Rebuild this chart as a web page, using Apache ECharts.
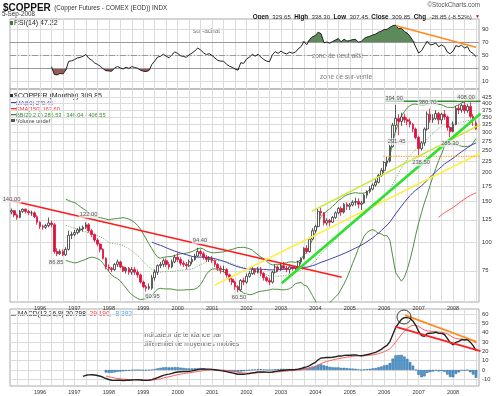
<!DOCTYPE html>
<html><head><meta charset="utf-8">
<script src="https://cdn.jsdelivr.net/npm/echarts@6/dist/echarts.min.js"></script>
<style>html,body{margin:0;padding:0;background:#fff}#c{width:499px;height:396px}</style>
</head><body><div id="c"></div>
<script>
// ---- monthly OHLC, [open, close, low, high], first bar = March 1995 ----
const ohlc1995 = [[135,137,132,140],[137,131,128,138],[131,128,125,133],[128,136,127,138],[136,139,134,140],[139,136,133,140],[136,134,131,138],[134,134,130,137],[134,129,127,136],[129,122,119,131]];
const ohlc1996 = [[122,117,114,123],[117,116,113,119],[116,118,114,120],[118,121,116,128],[121,119,116,124],[119,91,89,121],[91,89,86.85,94],[89,91,88,93],[91,88,87,93],[88,93,87,95],[93,107,92,112],[107,108,103,111]];
const ohlc1997 = [[108,110,106,113],[110,113,108,115],[113,114,110,117],[114,116,111,118],[116,119,114,122],[119,112,110,121],[112,108,105,114],[108,102,100,109],[102,98,96,104],[98,93,90,99],[93,85,84,94],[85,78,76,86]];
const ohlc1998 = [[78,77,75,80],[77,76,74,78],[76,80,75,81],[80,82,78,84],[82,78,77,83],[78,75,74,79],[75,77,73,78],[77,74,72,78],[74,76,72,78],[76,74,72,78],[74,72,70,76],[72,67,66,73]];
const ohlc1999 = [[67,64,63,68],[64,63,60.95,65],[63,64,62,66],[63,70,62,72],[70,74,68,76],[74,79,72,80],[79,80,77,82],[80,83,78,85],[83,80,78,85],[80,78,76,82],[78,82,77,84],[82,86,81,88]];
const ohlc2000 = [[86,84,82,90],[84,81,79,86],[81,80,78,83],[80,79,76,82],[79,82,78,84],[82,84,80,86],[84,87,83,89],[87,91,86,94.4],[91,89,87,93],[89,86,84,91],[86,84,82,88],[84,85,82,87]];
const ohlc2001 = [[85,83,81,87],[83,80,78,84],[80,77,75,81],[77,76,73,79],[76,76,74,79],[76,72,70,77],[72,69,67,73],[69,67,65,70],[67,64,62,68],[64,62,60.5,65],[62,68,61,69],[68,67,65,70]];
const ohlc2002 = [[67,71,66,73],[71,73,70,75],[73,76,72,78],[76,74,72,77],[74,76,73,78],[76,73,71,78],[73,70,68,74],[70,68,67,71],[68,67,65,70],[67,74,66,75],[74,78,73,80],[78,76,74,79]];
const ohlc2003 = [[76,79,75,81],[79,77,76,82],[77,76,74,79],[76,78,73,80],[78,77,75,79],[77,78,75,79],[78,82,77,83],[82,85,80,86],[85,94,84,95],[94,91,89,97],[91,103,90,104],[103,112,102,115]];
const ohlc2004 = [[112,117,110,119],[117,136,116,140],[136,134,130,141],[134,121,118,135],[121,124,118,127],[124,122,117,126],[122,128,121,130],[128,134,126,136],[134,140,132,142],[140,135,130,143],[135,146,133,148],[146,143,138,149]];
const ohlc2005 = [[143,145,138,148],[145,149,143,152],[149,150,144,156],[150,146,140,155],[146,148,138,151],[148,160,147,162],[160,166,155,168],[166,170,163,175],[170,177,168,180],[177,182,174,188],[182,195,180,198],[195,205,192,210]];
const ohlc2006 = [[205,222,200,225],[222,225,213,235],[225,260,222,265],[260,322,258,330],[322,345,300,394.9],[345,335,291.45,360],[335,350,320,365],[350,340,330,362],[340,335,322,348],[335,325,315,345],[325,310,300,330],[310,285,280,315]];
const ohlc2007 = [[285,255,238.5,290],[255,270,250,275],[270,310,262,315],[310,360,305,370],[360,340,330,380.7],[340,345,330,360],[345,362,340,375],[362,340,325,368],[340,360,325,365],[360,350,340,375],[350,315,305,355],[315,303,285.3,320]];
const ohlc2008 = [[303,325,300,335],[325,382,322,390],[382,375,360,396],[375,393,365,400],[393,373,362,408],[373,389,365,398],[389,352,345,405],[352,338.7,320,360],[329.65,309.85,307.45,338.3]];

// ---- axis ticks ----
const yearLabels = ['1996','1997','1998','1999','2000','2001','2002','2003','2004','2005','2006','2007','2008'];
const priceTicks = [75,100,125,150,175,200,225,250,275,300,325,350,375,400,425];
const rsiTicks = [10,30,50,70,90];
const macdTicks = [-10,0,10,20,30,40,50,60];

// ---- annotations (x in decimal years) ----
const peakLabels = ['140.00','122.00','86.85','60.95','94.40','60.50','394.90','380.70','408.00','291.45','238.50','285.30'];
const peakTimes  = [1995.172,1997.41,1996.47,1999.27,2000.65,2001.78,2006.285,2007.258,2008.377,2006.358,2007.07,2007.91];
const peakPrices = [153,131.6,81.8,57.8,101.7,57.5,421,405,426,273,221.4,268];

const redTrendTimes = [1995.13,2004.765];    const redTrendPrices = [152,70.3];
const greenTrendTimes = [2003.022,2008.8];   const greenTrendPrices = [66.2,362];
const limeTrendTimes = [2003.894,2008.8];    const limeTrendPrices = [136,325];
const yellowTrendTimes = [2001.084,2008.8];  const yellowTrendPrices = [65.1,244];
const resistTimes = [2006.04,2008.8];        const resistPrices = [410,410];
const supportTimes = [2005.97,2008.8];       const supportPrices = [236,236];
const rsiTrendTimes = [2006.343,2008.667];   const rsiTrendValues = [95,61.8];
const macdOrangeTimes = [2006.605,2008.687]; const macdOrangeValues = [59.1,30.4];
const macdRedTimes = [2006.314,2008.8];      const macdRedValues = [46.6,20.4];
const macdCircleTimes = [2006.575];          const macdCircleValues = [57];

// ---- build series data ----
const years = [ohlc1995,ohlc1996,ohlc1997,ohlc1998,ohlc1999,ohlc2000,ohlc2001,ohlc2002,ohlc2003,ohlc2004,ohlc2005,ohlc2006,ohlc2007,ohlc2008];
const times = [], candles = [], closes = [];
{
  let y = 1995, m = 3;
  for (const arr of years) for (const r of arr) {
    const t = y + (m-1)/12;
    times.push(t); candles.push([t, r[0], r[1], r[2], r[3]]); closes.push(r[1]);
    m++; if (m > 12) { m = 1; y++; }
  }
}
function sma(a,n){const o=[];for(let i=0;i<a.length;i++){if(i<n-1){o.push(null);continue;}let s=0;for(let j=i-n+1;j<=i;j++)s+=a[j];o.push(s/n);}return o;}
function ema(a,n){const o=[],k=2/(n+1);let p=null,buf=[];for(let i=0;i<a.length;i++){const v=a[i];if(v==null){o.push(null);continue;}if(p==null){buf.push(v);if(buf.length===n){p=buf.reduce((x,y)=>x+y,0)/n;o.push(p);}else o.push(null);}else{p=v*k+p*(1-k);o.push(p);}}return o;}
function rsiCalc(a,n){const o=[null];let ag=0,al=0;for(let i=1;i<a.length;i++){const d=a[i]-a[i-1],g=Math.max(d,0),l=Math.max(-d,0);if(i<=n){ag+=g;al+=l;if(i===n){ag/=n;al/=n;o.push(100-100/(1+ag/al));}else o.push(null);}else{ag=(ag*(n-1)+g)/n;al=(al*(n-1)+l)/n;o.push(al===0?100:100-100/(1+ag/al));}}return o;}
const ma50 = sma(closes,50), ema150 = ema(closes,150), bbMid = sma(closes,20);
const bbUp = [], bbLo = [];
for (let i=0;i<closes.length;i++){ if(bbMid[i]==null){bbUp.push(null);bbLo.push(null);continue;} let s=0; for(let j=i-19;j<=i;j++) s+=(closes[j]-bbMid[i])**2; const sd=Math.sqrt(s/20); bbUp.push(bbMid[i]+2*sd); bbLo.push(bbMid[i]-2*sd); }
const rsi = rsiCalc(closes,14);
const e12 = ema(closes,12), e26 = ema(closes,26);
const macd = closes.map((c,i)=> (e12[i]==null||e26[i]==null)?null:e12[i]-e26[i]);
const signal = ema(macd,9);
const hist = macd.map((v,i)=> (v==null||signal[i]==null)?null:v-signal[i]);
const pair = arr => times.map((t,i)=>[t, arr[i]]);
const seg = (ts,vs) => ts.map((t,i)=>[t, vs[i]]);

const yearTicks = yearLabels.map(y => +y);
const vGrid = []; for (let y=1995; y<=2008; y++) for (const k of [0,4,8]) vGrid.push(y + k/12);
const xMin = 1995.128, xMax = 2008.754;
const FONT = 'Liberation Sans, Arial, sans-serif';
const gridLine = {show:true, lineStyle:{color:'#dcdcdc', width:1}};

function xAxisFor(gi, showLabels){
  return {type:'value', gridIndex:gi, min:xMin, max:xMax, scale:true,
    axisLine:{show:false}, axisTick:{show:false, customValues:vGrid},
    splitLine:gridLine,
    axisLabel:{show:showLabels, customValues:yearTicks, formatter:v=>String(Math.round(v)), fontSize:5.5, color:'#333', margin:3, fontFamily:FONT}};
}
function yAxisFor(gi, type, min, max, ticks){
  return {type:type, gridIndex:gi, position:'right', min:min, max:max, logBase:10,
    axisLine:{show:false}, axisTick:{show:false, customValues:ticks},
    splitLine:gridLine,
    axisLabel:{customValues:ticks, fontSize:5.8, color:'#333', margin:3, fontFamily:FONT}};
}

const rsiHi = rsi.map(v=> v==null?null:Math.max(v,70));
const rsiLo = rsi.map(v=> v==null?null:Math.min(v,30));

const lineS = (xi, yi, data, color, width, extra) => Object.assign({type:'line', xAxisIndex:xi, yAxisIndex:yi, data:data, symbol:'none', silent:true, lineStyle:{color:color, width:width}, z:4, animation:false}, extra||{});

const option = {
  animation:false,
  backgroundColor:'#fff',
  grid:[
    {left:10, right:20, top:19, height:70, show:true, borderColor:'#aaa', borderWidth:1},
    {left:10, right:20, top:89, height:213, show:true, borderColor:'#aaa', borderWidth:1},
    {left:10, right:20, top:309, height:77, show:true, borderColor:'#aaa', borderWidth:1}
  ],
  xAxis:[xAxisFor(0,false), xAxisFor(1,true), xAxisFor(2,true)],
  yAxis:[
    yAxisFor(0,'value',-2.3,105.4,rsiTicks),
    yAxisFor(1,'log',54.9,463,priceTicks),
    yAxisFor(2,'value',-17.2,65.6,macdTicks)
  ],
  series:[
    lineS(0,0,pair(rsiHi),'rgba(0,0,0,0)',0,{areaStyle:{origin:70, color:'#5d8a5a', opacity:1}, z:2}),
    lineS(0,0,pair(rsiLo),'rgba(0,0,0,0)',0,{areaStyle:{origin:30, color:'#9a5a5a', opacity:1}, z:2}),
    lineS(0,0,pair(rsi),'#222',1,{z:5, markLine:{silent:true, symbol:'none', label:{show:false}, animation:false,
      data:[{yAxis:70, lineStyle:{color:'#999', width:1.2, type:'solid'}},{yAxis:30, lineStyle:{color:'#999', width:1.2, type:'solid'}},{yAxis:50, lineStyle:{color:'#999', width:1, type:[6,2,1,2]}}]}}),
    lineS(0,0,seg(rsiTrendTimes,rsiTrendValues),'#ff8a1c',1.5,{z:6}),
    lineS(1,1,pair(bbUp),'#4f8f3f',1,{z:2}),
    lineS(1,1,pair(bbLo),'#4f8f3f',1,{z:2}),
    lineS(1,1,pair(bbMid),'#6aa85a',1,{z:2, lineStyle:{color:'#6aa85a', width:1, type:[1,1.5]}}),
    lineS(1,1,pair(ma50),'#4040b0',1,{z:2}),
    lineS(1,1,pair(ema150),'#ff5a5a',1,{z:2}),
    {type:'candlestick', xAxisIndex:1, yAxisIndex:1, data:candles, barWidth:2.2, silent:true, z:3,
      itemStyle:{color:'#fff', color0:'#e0103a', borderColor:'#333', borderColor0:'#e0103a', borderWidth:0.8}},
    lineS(1,1,seg(redTrendTimes,redTrendPrices),'#ff1a1a',1.6,{z:6}),
    lineS(1,1,seg(yellowTrendTimes,yellowTrendPrices),'#ffee44',1.5,{z:6}),
    lineS(1,1,seg(limeTrendTimes,limeTrendPrices),'#c8e830',1.5,{z:6}),
    lineS(1,1,seg(greenTrendTimes,greenTrendPrices),'#2fe02f',2.6,{z:7}),
    lineS(1,1,seg(resistTimes,resistPrices),'#2f8f2f',1.5,{z:6}),
    lineS(1,1,seg(supportTimes,supportPrices),'#ffaa55',1.2,{z:6, lineStyle:{color:'#ffaa55', width:1.2, type:[1.5,1]}}),
    {type:'scatter', xAxisIndex:1, yAxisIndex:1, silent:true, z:8, symbolSize:0.1, itemStyle:{color:'rgba(0,0,0,0)'},
      data: peakTimes.map((t,i)=>[t, peakPrices[i], peakLabels[i]]),
      label:{show:true, position:'inside', formatter:p=>p.data[2], fontSize:5.8, color:'#333', fontFamily:FONT, backgroundColor:'rgba(238,238,238,0.9)', padding:[1,1,0,1]}},
    {type:'bar', xAxisIndex:2, yAxisIndex:2, data:pair(hist), barWidth:2.6, silent:true, z:2,
      itemStyle:{color:'#4f97d0', borderColor:'#2d6a9a', borderWidth:0.5}},
    lineS(2,2,pair(signal),'#ff6060',1,{z:3}),
    lineS(2,2,pair(macd),'#222',1.4,{z:4}),
    lineS(2,2,seg(macdOrangeTimes,macdOrangeValues),'#ff8a1c',1.8,{z:6}),
    lineS(2,2,seg(macdRedTimes,macdRedValues),'#ff2020',1.8,{z:6}),
    {type:'scatter', xAxisIndex:2, yAxisIndex:2, silent:true, z:7, symbol:'circle', symbolSize:14,
      data: macdCircleTimes.map((t,i)=>[t, macdCircleValues[i]]),
      itemStyle:{color:'rgba(0,0,0,0)', borderColor:'#111', borderWidth:1}}
  ],
  graphic:[
    {type:'text', left:3, top:2, style:{text:'{a|$COPPER} {b|(Copper Futures - COMEX (EOD)) INDX}', rich:{a:{fontSize:10, fontWeight:'bold', fontFamily:FONT, fill:'#111'}, b:{fontSize:6.3, fontFamily:FONT, fill:'#333'}}}},
    {type:'text', left:2, top:11, style:{text:'5-Sep-2008', fontSize:6.3, fontFamily:FONT, fill:'#333'}},
    {type:'text', right:19, top:2, style:{text:'©StockCharts.com', fontSize:6.3, fontFamily:FONT, fill:'#555'}},
    {type:'text', right:19, top:11, style:{text:'{k|Open} {v|329.65} {k|High} {v|338.30} {k|Low} {v|307.45} {k|Close} {v|309.85} {k|Chg} {v|-28.85 (-8.52%)} {r|▼}',
      rich:{k:{fontSize:6.3, fontWeight:'bold', fontFamily:FONT, fill:'#111'}, v:{fontSize:6.1, fontFamily:FONT, fill:'#333'}, r:{fontSize:5, fill:'#a0103a'}}}},
    {type:'rect', left:10, top:21, shape:{width:3, height:4}, style:{fill:'#3a7a3a'}},
    {type:'text', left:14, top:20, style:{text:'RSI(14) 47.22', fontSize:7, fontFamily:FONT, fill:'#222'}},
    {type:'text', left:193, top:28, style:{text:'sur-achat', fontSize:6.5, fontFamily:FONT, fill:'#777'}},
    {type:'text', left:312, top:53, style:{text:'zone de neutralité', fontSize:6.5, fontFamily:FONT, fill:'#777'}},
    {type:'text', left:320, top:74, style:{text:'zone de sur-vente', fontSize:6.5, fontFamily:FONT, fill:'#777'}},
    {type:'rect', left:10, top:94, shape:{width:3, height:4}, style:{fill:'#333'}},
    {type:'text', left:14, top:93, style:{text:'$COPPER (Monthly) 309.85', fontSize:7, fontFamily:FONT, fill:'#222'}},
    {type:'rect', left:11, top:102, shape:{width:5, height:1.3}, style:{fill:'#4040b0'}},
    {type:'text', left:16, top:100, style:{text:'MA(50) 270.46', fontSize:5.6, fontFamily:FONT, fill:'#4040b0'}},
    {type:'rect', left:11, top:108, shape:{width:5, height:1.3}, style:{fill:'#ff3030'}},
    {type:'text', left:16, top:106, style:{text:'EMA(150) 163.60', fontSize:5.6, fontFamily:FONT, fill:'#ff3030'}},
    {type:'rect', left:11, top:114, shape:{width:5, height:1.3}, style:{fill:'#2f8f2f'}},
    {type:'text', left:16, top:112, style:{text:'BB(20,2.0) 285.53 - 346.04 - 406.55', fontSize:5.6, fontFamily:FONT, fill:'#2f8f2f'}},
    {type:'rect', left:11, top:119, shape:{width:4, height:3}, style:{fill:'#555'}},
    {type:'text', left:16, top:118, style:{text:'Volume undef', fontSize:5.6, fontFamily:FONT, fill:'#444'}},
    {type:'rect', left:11, top:314, shape:{width:5, height:1.5}, style:{fill:'#111'}},
    {type:'text', left:18, top:311, style:{text:'{a|MACD(12,26,9) 20.798}{b|, 29.190}{c|, -8.392}', rich:{a:{fontSize:6.6, fontFamily:FONT, fill:'#222'}, b:{fontSize:6.6, fontFamily:FONT, fill:'#ff4040'}, c:{fontSize:6.6, fontFamily:FONT, fill:'#44aadd'}}}},
    {type:'text', left:143, top:331, style:{text:'Indicateur de tendance par\ndifférentiel de moyennes mobiles', fontSize:6.6, lineHeight:9, fontFamily:FONT, fill:'#666'}}
  ]
};
const chart = echarts.init(document.getElementById('c'), null, {renderer:'canvas'});
chart.setOption(option);
</script></body></html>
